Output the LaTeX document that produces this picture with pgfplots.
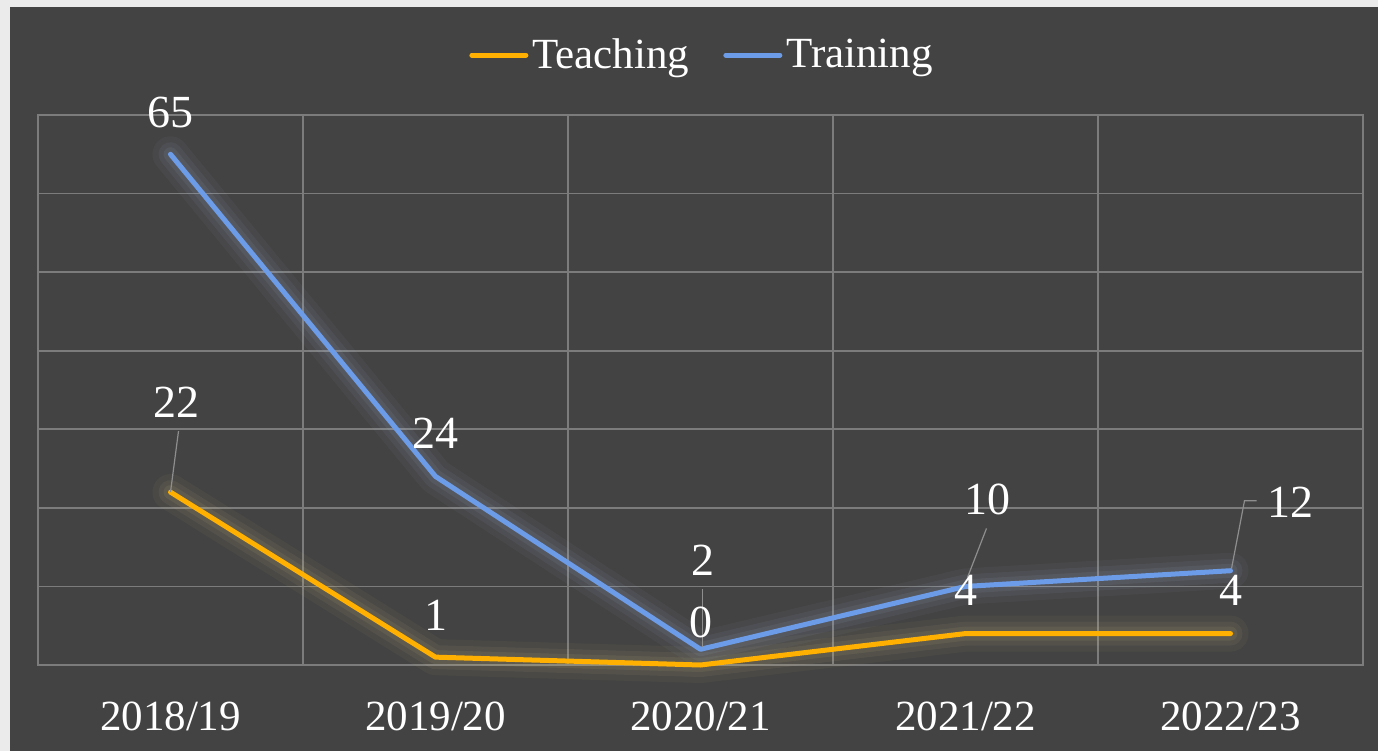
\documentclass[border=0pt]{standalone}
\usepackage{pgfplots}
\pgfplotsset{compat=1.18}
\usepackage{fontspec}
\setmainfont{Liberation Serif}

\definecolor{bgdark}{HTML}{434343}
\definecolor{frame}{HTML}{EBEBEB}
\definecolor{gridc}{HTML}{7C7C7C}
\definecolor{leader}{HTML}{8E8E8E}
\definecolor{teach}{HTML}{FFB000}
\definecolor{train}{HTML}{6C9CE8}
\definecolor{trainglow}{HTML}{A8B8D8}
\definecolor{teachglow}{HTML}{D8C880}

% x, value, label offset (pt)
\pgfplotstableread{
x y dx dy
0 22 3 37.5
1 1 0 13.5
2 0 0 14
3 4 0 14
4 4 0 14
}\teaching
\pgfplotstableread{
x y dx dy
0 65 0 13.5
1 24 0 14
2 2 1 37
3 10 11 36
4 12 30 26.5
}\training

\pgfplotsset{
  lbl/.style={nodes near coords, point meta=explicit,
    visualization depends on={\thisrow{dx}\as\dx},
    visualization depends on={\thisrow{dy}\as\dy},
    every node near coord/.append style={anchor=base, xshift=\dx pt, yshift=\dy pt,
      text=white, inner sep=0pt, font=\fontsize{23}{23}\selectfont}},
  glow/.style={#1, forget plot, line join=round, line cap=round},
}

\begin{document}
\begin{tikzpicture}
\fill[frame] (-19pt,-43pt) rectangle (670pt,332.5pt);
\fill[bgdark] (-14pt,-43pt) rectangle (670pt,329pt);
\path[use as bounding box] (-19pt,-43pt) rectangle (670pt,332.5pt);
\begin{axis}[scale only axis, width=662.5pt, height=275pt,
  at={(0,0)}, anchor=south west, clip=false,
  xmin=-0.5, xmax=4.5, ymin=0, ymax=70,
  xtick={0,...,4},
  xticklabels={2018/19,2019/20,2020/21,2021/22,2022/23},
  minor xtick={-0.5,0.5,...,4.5}, xminorgrids,
  ytick={0,10,...,70}, yticklabels={}, ymajorgrids,
  major tick length=0, minor tick length=0,
  axis line style={gridc, line width=0.8pt},
  major grid style={gridc, line width=0.8pt},
  minor grid style={gridc, line width=0.8pt},
  xticklabel style={font=\fontsize{21.5}{21.5}\selectfont, text=white,
    anchor=base, yshift=-32.5pt},
  /pgf/number format/assume math mode=true,
  legend columns=-1,
  legend image code/.code={\draw[#1, line width=2.5pt, line cap=round] (0pt,0pt) -- (27pt,0pt);},
  legend style={at={(0.502,1.109)}, anchor=center, draw=none, fill=none,
    text=white, inner sep=0pt, font=\fontsize{21.5}{21.5}\selectfont,
    nodes={inner xsep=2pt, inner ysep=0pt},
    /tikz/every even column/.append style={column sep=15pt}},
]
\addplot[glow=teachglow, line width=18pt, opacity=0.05] table[x=x, y=y] {\teaching};
\addplot[glow=teachglow, line width=12pt, opacity=0.07] table[x=x, y=y] {\teaching};
\addplot[glow=teachglow, line width=7pt, opacity=0.09] table[x=x, y=y] {\teaching};
\addplot[glow=trainglow, line width=18pt, opacity=0.05] table[x=x, y=y] {\training};
\addplot[glow=trainglow, line width=12pt, opacity=0.07] table[x=x, y=y] {\training};
\addplot[glow=trainglow, line width=7pt, opacity=0.09] table[x=x, y=y] {\training};

\addplot[teach, line width=2.5pt, line join=round, line cap=round, lbl]
  table[x=x, y=y, meta=y] {\teaching};
\addlegendentry{Teaching}
\addplot[train, line width=2.5pt, line join=round, line cap=round, lbl]
  table[x=x, y=y, meta=y] {\training};
\addlegendentry{Training}

% leader lines of the moved labels
\draw[leader, line width=0.6pt] (axis cs:0,22) -- ++(4pt,30.5pt);
\draw[leader, line width=0.6pt] (axis cs:2,2) ++(1pt,1pt) -- ++(0pt,29pt);
\draw[leader, line width=0.6pt] (axis cs:3,10) ++(1pt,4.5pt) -- ++(9.5pt,24.5pt);
\draw[leader, line width=0.6pt] (axis cs:4,12) ++(0.5pt,1pt) -- ++(6.5pt,34pt) -- ++(6pt,0pt);
\end{axis}
\end{tikzpicture}
\end{document}
